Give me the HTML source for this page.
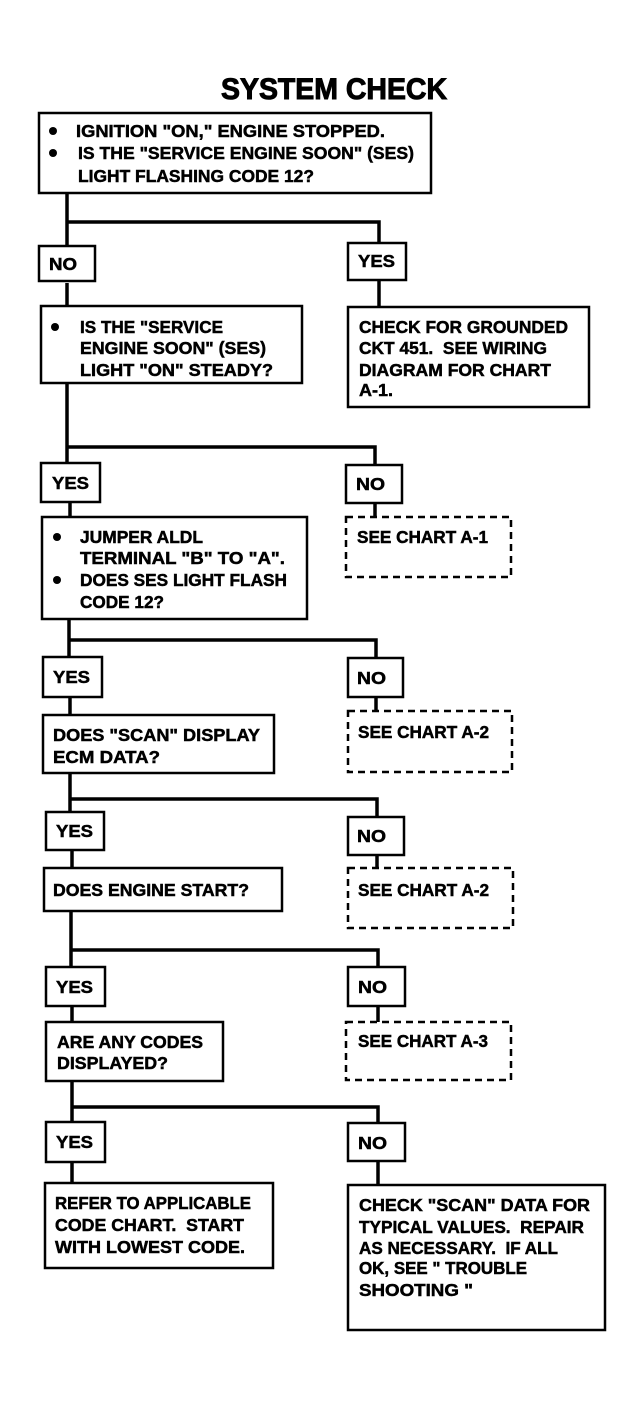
<!DOCTYPE html>
<html><head><meta charset="utf-8"><style>
html,body{margin:0;padding:0;background:#fff;}
svg{display:block;}
text{font-family:"Liberation Sans",Arial,sans-serif;font-weight:bold;font-size:17.5px;fill:#000;stroke:#000;stroke-width:0.5px;white-space:pre;}
.t{font-size:30px;stroke-width:1px;}
</style></head><body>
<svg width="637" height="1407" viewBox="0 0 637 1407" xmlns="http://www.w3.org/2000/svg">
<text class="t" x="221" y="99" textLength="226" lengthAdjust="spacingAndGlyphs">SYSTEM CHECK</text>
<g fill="none" stroke="#000" stroke-width="3.5">
<path d="M67 192 V247 M67 222 H379 V244 M67 283 V307"/>
<path d="M379 280 V307"/>
<path d="M67 383 V463 M67 447 H375 V465 M70 502 V517"/>
<path d="M375 503 V517"/>
<path d="M69 619 V657 M69 640 H376 V658 M70 697 V715"/>
<path d="M376 697 V711"/>
<path d="M70 773 V812 M70 799 H377 V817 M72 850 V868"/>
<path d="M377 855 V868"/>
<path d="M71 911 V967 M71 950 H378 V967 M72 1006 V1022"/>
<path d="M378 1006 V1022"/>
<path d="M72 1081 V1122 M72 1107 H378 V1123 M72 1162 V1183"/>
<path d="M378 1161 V1185"/>
</g>
<g fill="none" stroke="#000" stroke-width="2.5">
<rect x="39" y="113" width="392" height="80"/>
<rect x="39" y="246" width="56" height="35"/>
<rect x="348" y="243" width="58" height="37"/>
<rect x="41" y="306" width="261" height="77"/>
<rect x="348" y="307" width="241" height="100"/>
<rect x="41" y="463" width="59" height="39"/>
<rect x="346" y="465" width="56" height="38"/>
<rect x="42" y="517" width="265" height="102"/>
<rect x="43" y="657" width="59" height="40"/>
<rect x="348" y="658" width="55" height="39"/>
<rect x="43" y="715" width="231" height="58"/>
<rect x="46" y="812" width="58" height="38"/>
<rect x="348" y="817" width="56" height="38"/>
<rect x="44" y="868" width="238" height="43"/>
<rect x="46" y="967" width="59" height="39"/>
<rect x="348" y="967" width="57" height="39"/>
<rect x="46" y="1022" width="177" height="59"/>
<rect x="46" y="1122" width="59" height="40"/>
<rect x="348" y="1123" width="57" height="38"/>
<rect x="45" y="1183" width="228" height="85"/>
<rect x="348" y="1185" width="257" height="145"/>
</g>
<g fill="none" stroke="#000" stroke-width="2.5" stroke-dasharray="7 5">
<rect x="346" y="517" width="165" height="60"/>
<rect x="348" y="711" width="164" height="61"/>
<rect x="348" y="868" width="165" height="60"/>
<rect x="346" y="1022" width="165" height="58"/>
</g>
<g fill="#000">
<circle cx="53" cy="131" r="4"/><circle cx="53" cy="153" r="4"/>
<circle cx="55" cy="327" r="4"/>
<circle cx="57" cy="537" r="4"/><circle cx="57" cy="580" r="4"/>
</g>
<text x="76" y="137" textLength="309" lengthAdjust="spacingAndGlyphs">IGNITION "ON," ENGINE STOPPED.</text>
<text x="78" y="159" textLength="336" lengthAdjust="spacingAndGlyphs">IS THE "SERVICE ENGINE SOON" (SES)</text>
<text x="78" y="182" textLength="236" lengthAdjust="spacingAndGlyphs">LIGHT FLASHING CODE 12?</text>
<text x="49" y="270" textLength="28" lengthAdjust="spacingAndGlyphs">NO</text>
<text x="358" y="267" textLength="37" lengthAdjust="spacingAndGlyphs">YES</text>
<text x="80" y="333" textLength="143" lengthAdjust="spacingAndGlyphs">IS THE "SERVICE</text>
<text x="80" y="354" textLength="186" lengthAdjust="spacingAndGlyphs">ENGINE SOON" (SES)</text>
<text x="80" y="376" textLength="193" lengthAdjust="spacingAndGlyphs">LIGHT "ON" STEADY?</text>
<text x="359" y="333" textLength="209" lengthAdjust="spacingAndGlyphs">CHECK FOR GROUNDED</text>
<text x="359" y="354" textLength="188" lengthAdjust="spacingAndGlyphs">CKT 451.  SEE WIRING</text>
<text x="359" y="376" textLength="192" lengthAdjust="spacingAndGlyphs">DIAGRAM FOR CHART</text>
<text x="359" y="396" textLength="34" lengthAdjust="spacingAndGlyphs">A-1.</text>
<text x="52" y="489" textLength="37" lengthAdjust="spacingAndGlyphs">YES</text>
<text x="356" y="490" textLength="29" lengthAdjust="spacingAndGlyphs">NO</text>
<text x="80" y="543" textLength="123" lengthAdjust="spacingAndGlyphs">JUMPER ALDL</text>
<text x="80" y="564" textLength="205" lengthAdjust="spacingAndGlyphs">TERMINAL "B" TO "A".</text>
<text x="80" y="586" textLength="207" lengthAdjust="spacingAndGlyphs">DOES SES LIGHT FLASH</text>
<text x="80" y="608" textLength="84" lengthAdjust="spacingAndGlyphs">CODE 12?</text>
<text x="357" y="543" textLength="131" lengthAdjust="spacingAndGlyphs">SEE CHART A-1</text>
<text x="53" y="683" textLength="37" lengthAdjust="spacingAndGlyphs">YES</text>
<text x="357" y="684" textLength="29" lengthAdjust="spacingAndGlyphs">NO</text>
<text x="53" y="741" textLength="207" lengthAdjust="spacingAndGlyphs">DOES "SCAN" DISPLAY</text>
<text x="53" y="763" textLength="107" lengthAdjust="spacingAndGlyphs">ECM DATA?</text>
<text x="358" y="738" textLength="131" lengthAdjust="spacingAndGlyphs">SEE CHART A-2</text>
<text x="56" y="837" textLength="37" lengthAdjust="spacingAndGlyphs">YES</text>
<text x="357" y="842" textLength="29" lengthAdjust="spacingAndGlyphs">NO</text>
<text x="53" y="896" textLength="196" lengthAdjust="spacingAndGlyphs">DOES ENGINE START?</text>
<text x="358" y="896" textLength="131" lengthAdjust="spacingAndGlyphs">SEE CHART A-2</text>
<text x="56" y="993" textLength="37" lengthAdjust="spacingAndGlyphs">YES</text>
<text x="358" y="993" textLength="29" lengthAdjust="spacingAndGlyphs">NO</text>
<text x="57" y="1048" textLength="146" lengthAdjust="spacingAndGlyphs">ARE ANY CODES</text>
<text x="57" y="1069" textLength="111" lengthAdjust="spacingAndGlyphs">DISPLAYED?</text>
<text x="358" y="1047" textLength="130" lengthAdjust="spacingAndGlyphs">SEE CHART A-3</text>
<text x="56" y="1148" textLength="37" lengthAdjust="spacingAndGlyphs">YES</text>
<text x="358" y="1149" textLength="29" lengthAdjust="spacingAndGlyphs">NO</text>
<text x="55" y="1209" textLength="196" lengthAdjust="spacingAndGlyphs">REFER TO APPLICABLE</text>
<text x="55" y="1231" textLength="189" lengthAdjust="spacingAndGlyphs">CODE CHART.  START</text>
<text x="55" y="1253" textLength="190" lengthAdjust="spacingAndGlyphs">WITH LOWEST CODE.</text>
<text x="359" y="1211" textLength="231" lengthAdjust="spacingAndGlyphs">CHECK "SCAN" DATA FOR</text>
<text x="359" y="1233" textLength="225" lengthAdjust="spacingAndGlyphs">TYPICAL VALUES.  REPAIR</text>
<text x="359" y="1254" textLength="199" lengthAdjust="spacingAndGlyphs">AS NECESSARY.  IF ALL</text>
<text x="359" y="1274" textLength="168" lengthAdjust="spacingAndGlyphs">OK, SEE " TROUBLE</text>
<text x="359" y="1296" textLength="114" lengthAdjust="spacingAndGlyphs">SHOOTING "</text>
</svg>
</body></html>
